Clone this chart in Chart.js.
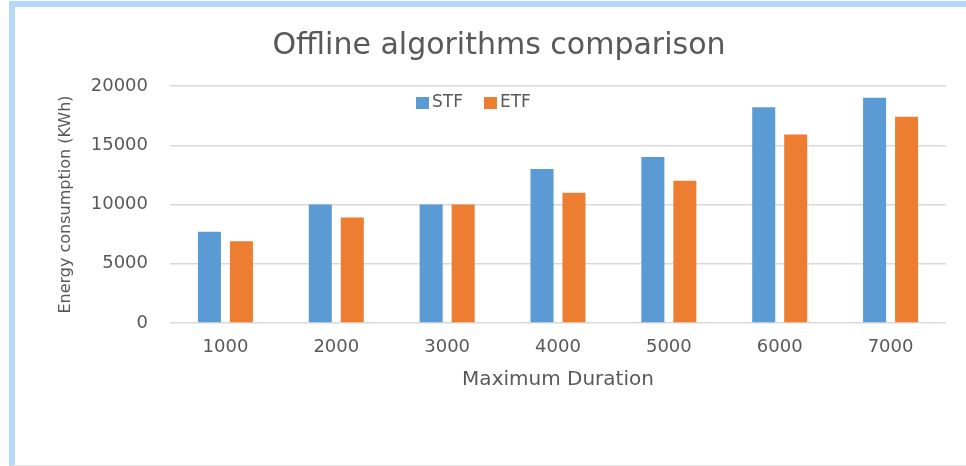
<!DOCTYPE html>
<html>
<head>
<meta charset="utf-8">
<script src="https://cdn.jsdelivr.net/npm/chart.js@4/dist/chart.umd.min.js"></script>
<style>
    html, body { margin: 0; padding: 0; background: #fff; }
    #wrap { position: relative; width: 966px; height: 466px; overflow: hidden; }
    #frame {
        position: absolute; left: 9px; top: 1px; right: -20px; bottom: 0;
        border-left: 6px solid #b7d8f9;
        border-top: 6px solid #b7d8f9;
        border-bottom: 1px solid #e4e4e4;
        pointer-events: none;
    }
    canvas { position: absolute; left: 0; top: 0; }
</style>
</head>
<body>
<div id="wrap">
    <canvas id="energyChart" width="966" height="466"></canvas>
    <div id="frame"></div>
</div>
<script>
// Data
const categories = ['1000', '2000', '3000', '4000', '5000', '6000', '7000'];
const stfValues = [7700, 10000, 10000, 13000, 14000, 18200, 19000];
const etfValues = [6900, 8900, 10000, 11000, 12000, 15900, 17400];
const seriesNames = ['STF', 'ETF'];
const yMin = 0;
const yMax = 20000;
const yStep = 5000;

const textColor = '#595959';

// Legend drawn inside the plot, under the top gridline
const innerLegend = {
    id: 'innerLegend',
    afterDraw(chart) {
        const ctx = chart.ctx;
        const area = chart.chartArea;
        let x = area.left + 246;
        const y = area.top + 17;
        ctx.save();
        ctx.font = '17px "DejaVu Sans"';
        ctx.textBaseline = 'middle';
        chart.data.datasets.forEach(ds => {
            ctx.fillStyle = ds.backgroundColor;
            ctx.fillRect(x, y - 6, 13, 12);
            ctx.fillStyle = textColor;
            ctx.fillText(ds.label, x + 16, y);
            x += 16 + ctx.measureText(ds.label).width + 21;
        });
        ctx.restore();
    }
};

document.addEventListener('DOMContentLoaded', function() {
    Chart.defaults.font.family = '"DejaVu Sans"';
    Chart.defaults.color = textColor;

    const ctx = document.getElementById('energyChart').getContext('2d');
    new Chart(ctx, {
        type: 'bar',
        data: {
            labels: categories,
            datasets: [
                { label: seriesNames[0], data: stfValues, backgroundColor: '#5b9bd5' },
                { label: seriesNames[1], data: etfValues, backgroundColor: '#ed7d31' }
            ]
        },
        options: {
            responsive: false,
            animation: false,
            categoryPercentage: 0.577,
            barPercentage: 0.72,
            layout: {
                padding: { left: 52, right: 20, top: 0, bottom: 71 }
            },
            scales: {
                x: {
                    grid: { display: false, drawTicks: false },
                    border: { display: false },
                    ticks: { font: { size: 18 }, padding: 14, color: textColor },
                    title: {
                        display: true,
                        text: 'Maximum Duration',
                        font: { size: 20 },
                        color: textColor,
                        padding: { top: 9, bottom: 3 }
                    },
                    afterFit: function(scale) { scale.height = 72; }
                },
                y: {
                    min: yMin,
                    max: yMax,
                    grid: { color: '#d9d9d9', lineWidth: 1.5, drawTicks: false },
                    border: { display: false },
                    ticks: {
                        stepSize: yStep,
                        font: { size: 18 },
                        padding: 22,
                        color: textColor,
                        callback: function(value) { return String(value); }
                    },
                    title: {
                        display: true,
                        text: 'Energy consumption (KWh)',
                        font: { size: 16 },
                        color: textColor,
                        padding: { top: 4, bottom: 15 }
                    },
                    afterFit: function(scale) { scale.width = 118; }
                }
            },
            plugins: {
                legend: { display: false },
                tooltip: { enabled: false },
                title: {
                    display: true,
                    text: 'Offline algorithms comparison',
                    font: { size: 30, weight: 'normal' },
                    color: textColor,
                    padding: { top: 28, bottom: 22 }
                }
            }
        },
        plugins: [innerLegend]
    });
});
</script>
</body>
</html>
